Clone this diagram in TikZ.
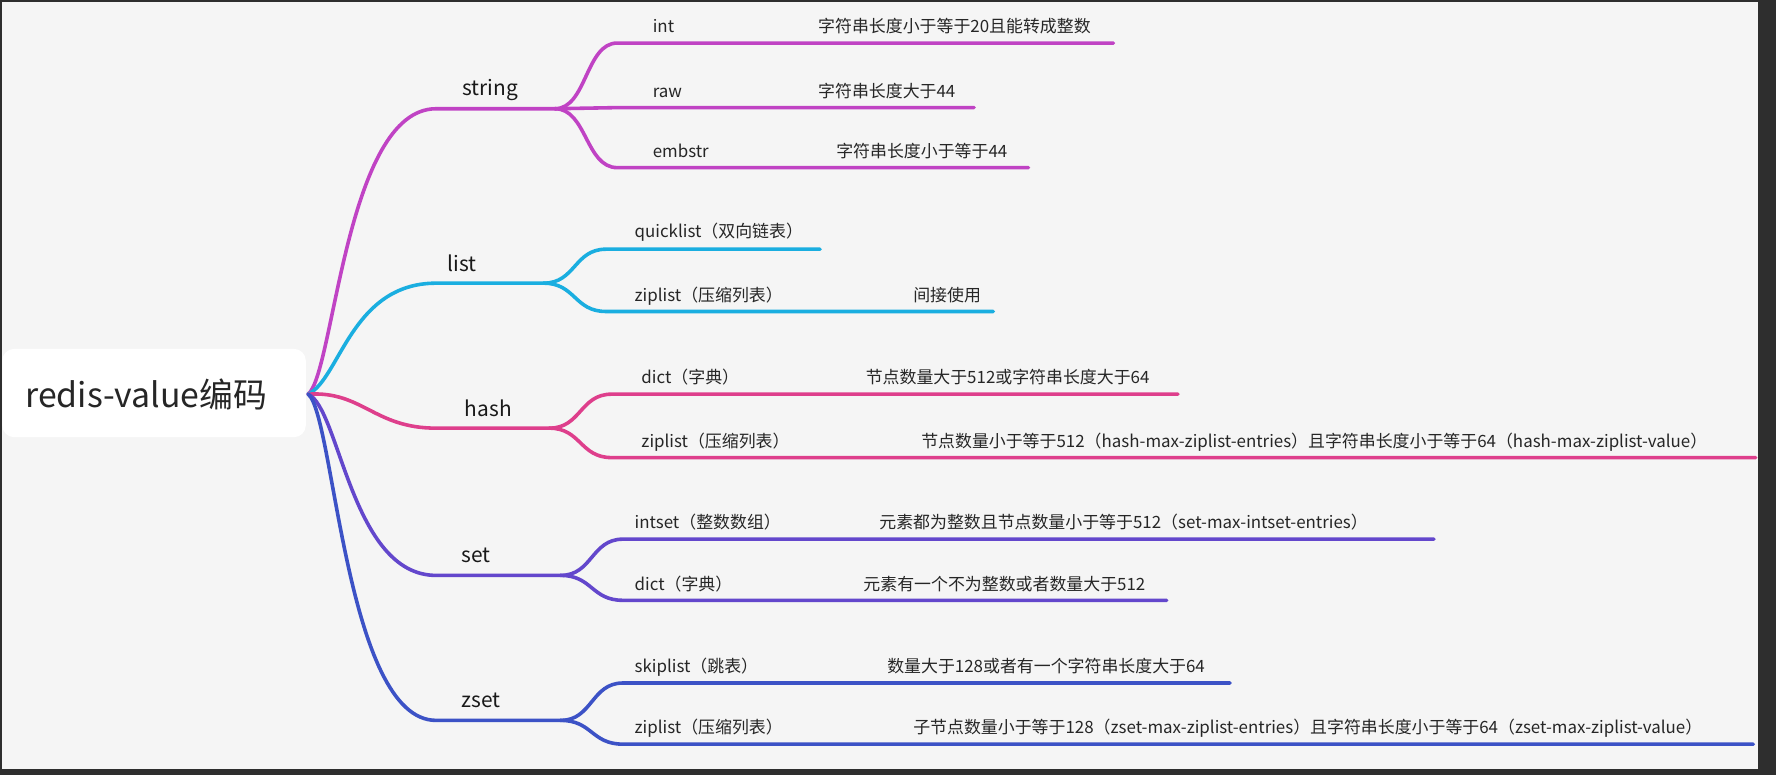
\documentclass[tikz,border=0pt]{standalone}
\usepackage{fontspec}
\setmainfont{Noto Sans CJK SC}
\begin{document}
\begin{tikzpicture}[x=0.02cm,y=-0.02cm,
  br/.style={line width=1.8pt,line cap=round},
  sub/.style={anchor=base west,font=\fontsize{8.5}{10}\selectfont,inner sep=0pt,text=black!85},
  lab/.style={anchor=base west,font=\fontsize{10.5}{12}\selectfont,inner sep=0pt,text=black!90}]
\definecolor{cS}{HTML}{C043C4}
\definecolor{cL}{HTML}{1AAEE0}
\definecolor{cH}{HTML}{DE3F8C}
\definecolor{cT}{HTML}{6347CC}
\definecolor{cZ}{HTML}{3C52C6}
\fill[black!82] (0,0) rectangle (1568,684);
\fill[black!4] (2,2) rectangle (1552,679);
\useasboundingbox (0,0) rectangle (1568,684);
\fill[white,rounded corners=6pt] (2,308) rectangle (270,386);
\node[anchor=base west,font=\fontsize{17}{20}\selectfont,inner sep=0pt,text=black!85] (rootlab) at (22,360) {redis-value编码};
\coordinate (root) at (272,348);
\foreach \n/\y/\jx in {S/96/490, L/250/480, H/378/485, T/508/495, Z/636/495}{
  \coordinate (b\n) at (385,\y);
  \coordinate (j\n) at (\jx,\y);
}
\draw[br,cS] (root) .. controls (295,330) and (305,96) .. (bS) -- (jS);
\draw[br,cL] (root) .. controls (300,335) and (310,250) .. (bL) -- (jL);
\draw[br,cH] (root) .. controls (320,345) and (330,378) .. (bH) -- (jH);
\draw[br,cT] (root) .. controls (300,360) and (310,508) .. (bT) -- (jT);
\draw[br,cZ] (root) .. controls (295,365) and (305,636) .. (bZ) -- (jZ);
\node[lab] (nS) at (408,84) {string};
\node[lab] (nL) at (395,240) {list};
\node[lab] (nH) at (410,368) {hash};
\node[lab] (nT) at (407,497) {set};
\node[lab] (nZ) at (407,625) {zset};
\foreach \p/\c/\nm/\y/\e in {S/cS/s1/38/983, S/cS/s2/95/860, S/cS/s3/148/908,
  L/cL/l1/220/724, L/cL/l2/275/877,
  H/cH/h1/348/1040, H/cH/h2/404/1550,
  T/cT/t1/476/1266, T/cT/t2/530/1030,
  Z/cZ/z1/603/1086, Z/cZ/z2/657/1548}{
  \path (j\p) ++(55,0) coordinate (tmp);
  \coordinate (\nm a) at (tmp |- 0,\y);
  \coordinate (\nm b) at (\e,\y);
  \draw[br,\c] (j\p) .. controls +(28,0) and +(-28,0) .. (\nm a) -- (\nm b);
}
\node[sub] (ts1) at (576,29) {int};
\node[sub] (ts2) at (576,86) {raw};
\node[sub] (ts3) at (576,139) {embstr};
\node[sub] (ds1) at (722,29) {字符串长度小于等于20且能转成整数};
\node[sub] (ds2) at (722,86) {字符串长度大于44};
\node[sub] (ds3) at (738,139) {字符串长度小于等于44};
\node[sub] (tl1) at (560,210) {quicklist（双向链表）};
\node[sub] (tl2) at (560,266) {ziplist（压缩列表）};
\node[sub] (dl2) at (806,266) {间接使用};
\node[sub] (th1) at (566,339) {dict（字典）};
\node[sub] (th2) at (566,395) {ziplist（压缩列表）};
\node[sub] (dh1) at (764,339) {节点数量大于512或字符串长度大于64};
\node[sub] (dh2) at (813,395) {节点数量小于等于512（hash-max-ziplist-entries）且字符串长度小于等于64（hash-max-ziplist-value）};
\node[sub] (tt1) at (560,467) {intset（整数数组）};
\node[sub] (tt2) at (560,521) {dict（字典）};
\node[sub] (dt1) at (776,467) {元素都为整数且节点数量小于等于512（set-max-intset-entries）};
\node[sub] (dt2) at (762,521) {元素有一个不为整数或者数量大于512};
\node[sub] (tz1) at (560,594) {skiplist（跳表）};
\node[sub] (tz2) at (560,648) {ziplist（压缩列表）};
\node[sub] (dz1) at (783,594) {数量大于128或者有一个字符串长度大于64};
\node[sub] (dz2) at (806,648) {子节点数量小于等于128（zset-max-ziplist-entries）且字符串长度小于等于64（zset-max-ziplist-value）};
\end{tikzpicture}
\end{document}
